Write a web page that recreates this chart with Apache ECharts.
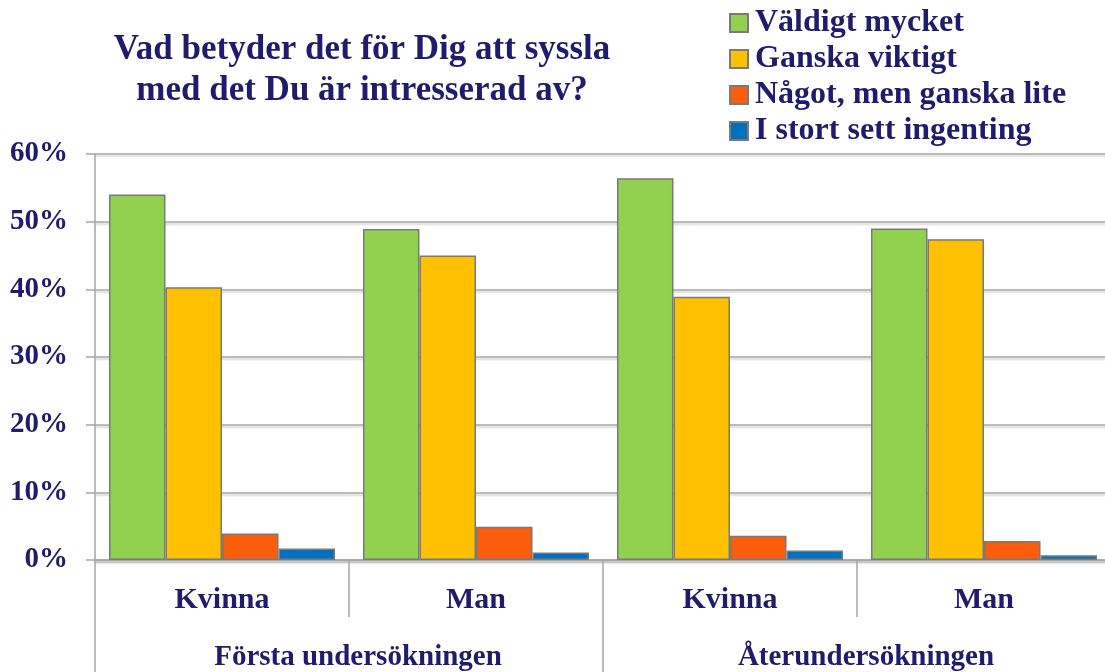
<!DOCTYPE html>
<html>
<head>
<meta charset="utf-8">
<script src="https://cdn.jsdelivr.net/npm/echarts@6/dist/echarts.min.js"></script>
<style>
  html, body { margin: 0; padding: 0; background: #ffffff; }
  #chart { width: 1105px; height: 672px; }
</style>
</head>
<body>
<div id="chart"></div>
<script>
// categories and groups on the x axis
var categories = ["Kvinna", "Man", "Kvinna", "Man"];
var groups = ["Första undersökningen", "Återundersökningen"];

// answers (percent)
var seriesNames = ["Väldigt mycket", "Ganska viktigt", "Något, men ganska lite", "I stort sett ingenting"];
var valdigtMycket = [54.0, 48.9, 56.4, 49.0];
var ganskaViktigt = [40.3, 45.0, 38.9, 47.4];
var nagotLite = [3.9, 4.9, 3.6, 2.8];
var ingenting = [1.7, 1.1, 1.4, 0.7];

var colors = ["#92d050", "#ffc000", "#fb5d0a", "#0070c0"];
var textColor = "#201c6b";
var lineColor = "#a6a6a6";
var font = "Liberation Serif";

var chart = echarts.init(document.getElementById("chart"));

function makeSeries(name, data, i) {
  return {
    name: name,
    type: "bar",
    xAxisIndex: 0,
    data: data,
    barGap: "0%",
    barCategoryGap: "11%",
    itemStyle: {
      color: colors[i],
      borderColor: "#7a7a7a",
      borderWidth: 1.5
    }
  };
}

chart.setOption({
  backgroundColor: "#ffffff",
  animation: false,
  color: colors,
  title: {
    text: "Vad betyder det för Dig att syssla\nmed det Du är intresserad av?",
    left: 357,
    top: 24,
    textAlign: "center",
    textStyle: {
      fontFamily: font,
      fontWeight: "bold",
      fontSize: 35,
      lineHeight: 41,
      color: textColor
    }
  },
  legend: {
    orient: "vertical",
    left: 724,
    top: 2,
    itemWidth: 18,
    itemHeight: 18,
    itemGap: 4,
    icon: "rect",
    textStyle: {
      fontFamily: font,
      fontWeight: "bold",
      fontSize: 32,
      color: textColor,
      padding: [0, 0, 0, 2]
    },
    data: seriesNames
  },
  grid: {
    left: 95,
    top: 154,
    width: 1016,
    height: 406,
    containLabel: false,
    outerBoundsMode: "none"
  },
  xAxis: [
    {
      type: "category",
      data: categories,
      position: "bottom",
      axisLine: {
        lineStyle: { color: lineColor, width: 1.5, shadowColor: "rgba(0,0,0,0.25)", shadowBlur: 2, shadowOffsetY: 2 }
      },
      axisTick: {
        show: true,
        interval: 0,
        length: 57,
        lineStyle: { color: lineColor, width: 1.5 }
      },
      axisLabel: {
        interval: 0,
        margin: 25,
        fontFamily: font,
        fontWeight: "bold",
        fontSize: 30,
        color: textColor
      }
    },
    {
      type: "category",
      data: groups,
      position: "bottom",
      axisLine: { show: false },
      axisTick: {
        show: true,
        interval: 0,
        length: 115,
        lineStyle: { color: lineColor, width: 1.5 }
      },
      axisLabel: {
        interval: 0,
        margin: 83,
        padding: [0, 0, 0, 18],
        fontFamily: font,
        fontWeight: "bold",
        fontSize: 29,
        color: textColor
      }
    }
  ],
  yAxis: {
    type: "value",
    min: 0,
    max: 60,
    interval: 10,
    axisLine: {
      show: true,
      lineStyle: { color: lineColor, width: 1.5 }
    },
    axisTick: {
      show: true,
      length: 9,
      lineStyle: { color: lineColor, width: 1.5 }
    },
    axisLabel: {
      margin: 27,
      formatter: "{value}%",
      fontFamily: font,
      fontWeight: "bold",
      fontSize: 29,
      color: textColor
    },
    splitLine: {
      lineStyle: { color: lineColor, width: 1.5, shadowColor: "rgba(0,0,0,0.2)", shadowBlur: 2, shadowOffsetY: 2 }
    }
  },
  series: [
    makeSeries(seriesNames[0], valdigtMycket, 0),
    makeSeries(seriesNames[1], ganskaViktigt, 1),
    makeSeries(seriesNames[2], nagotLite, 2),
    makeSeries(seriesNames[3], ingenting, 3)
  ]
});
</script>
</body>
</html>
